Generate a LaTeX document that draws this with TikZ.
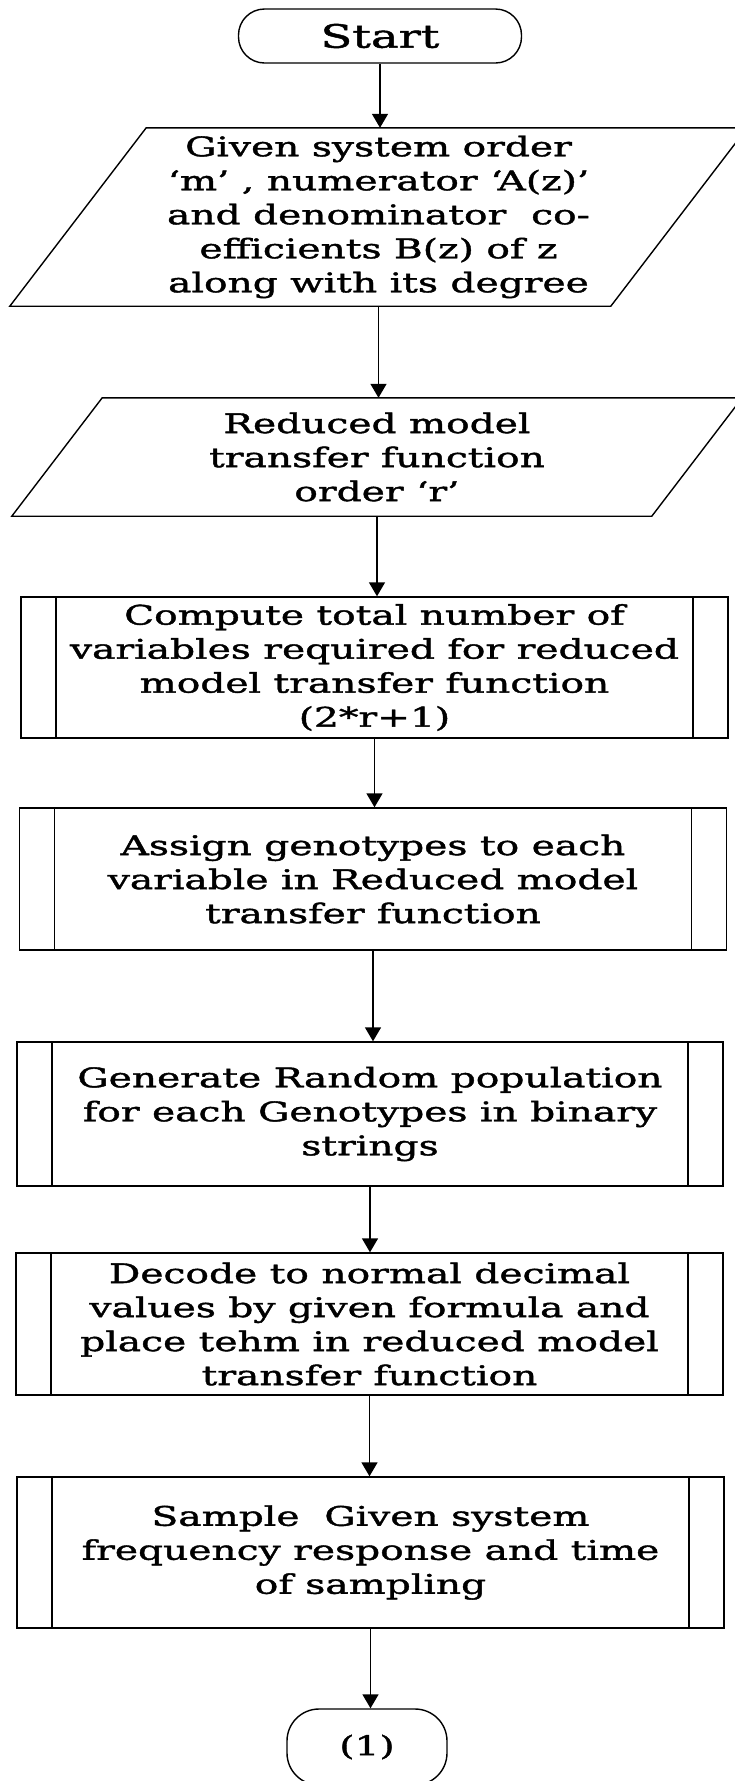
\documentclass[tikz,border=0pt]{standalone}
\usepackage{fontspec}
\setmainfont{DejaVu Serif}[FakeStretch=1.45,FakeBold=1.5]
\usetikzlibrary{calc,positioning,arrows.meta}

\begin{document}
\begin{tikzpicture}[x=1pt,y=-1pt,font=\fontsize{27}{34}\selectfont,
  term/.style={draw,line width=1.4pt,rounded corners=26pt,minimum width=283pt,minimum height=54pt,inner sep=0pt},
  io/.style={inner sep=0pt,align=center},
  slant/.style={draw,line width=1.4pt},
  proc/.style={draw,line width=1.4pt,minimum width=707pt,inner sep=0pt,align=center,
    path picture={\draw[line width=1.4pt] ([xshift=35pt]path picture bounding box.north west) -- ([xshift=35pt]path picture bounding box.south west)
      ([xshift=-35pt]path picture bounding box.north east) -- ([xshift=-35pt]path picture bounding box.south east);}},
  flow/.style={line width=1.5pt,-{Triangle[length=14pt,width=16pt]}}]
  \useasboundingbox (0,0) rectangle (735,1781);

  \node[term,font=\fontsize{32}{38}\selectfont] (start) at (380,36) {Start};
  \node[io,minimum width=737pt,minimum height=178pt] (given) at (378.5,217)
    {Given system order\\ `m' , numerator `A(z)'\\ and denominator~ co-\\ efficients B(z) of z\\ along with its degree};
  \draw[slant] (given.south west) -- ++(601,0) -- (given.north east) -- ++(-601,0) -- cycle;
  \node[io,minimum width=730pt,minimum height=118pt] (order) at (377,457)
    {Reduced model\\ transfer function\\ order `r'};
  \draw[slant] (order.south west) -- ++(640,0) -- (order.north east) -- ++(-640,0) -- cycle;

  \node[proc,minimum height=141pt] (total) at (374.5,667.5)
    {Compute total number of\\ variables required for reduced\\ model transfer function\\ (2*r+1)};
  \node[proc,minimum height=142pt] (assign) at (373,879)
    {Assign genotypes to each\\ variable in Reduced model\\ transfer function};
  \node[proc,minimum height=144pt,minimum width=706pt] (popul) at (370,1114)
    {Generate Random population\\ for each Genotypes in binary\\ strings};
  \node[proc,minimum height=142pt] (decode) at (369.5,1324)
    {Decode to normal decimal\\ values by given formula and\\ place tehm in reduced model\\ transfer function};
  \node[proc,minimum height=151pt] (sample) at (370.5,1552.5)
    {Sample~ Given system\\ frequency response and time\\ of sampling};

  \node[term,minimum width=160pt,minimum height=76pt,rounded corners=32pt] (conn) at (367,1747) {(1)};

  \draw[flow] (start.south) -- (start.south |- given.north);
  \draw[flow] (given.south) -- (given.south |- order.north);
  \draw[flow] (order.south) -- (order.south |- total.north);
  \draw[flow] (total.south) -- (total.south |- assign.north);
  \draw[flow] (assign.south) -- (assign.south |- popul.north);
  \draw[flow] (popul.south) -- (popul.south |- decode.north);
  \draw[flow] (decode.south) -- (decode.south |- sample.north);
  \draw[flow] (sample.south) -- (sample.south |- conn.north);
\end{tikzpicture}
\end{document}
